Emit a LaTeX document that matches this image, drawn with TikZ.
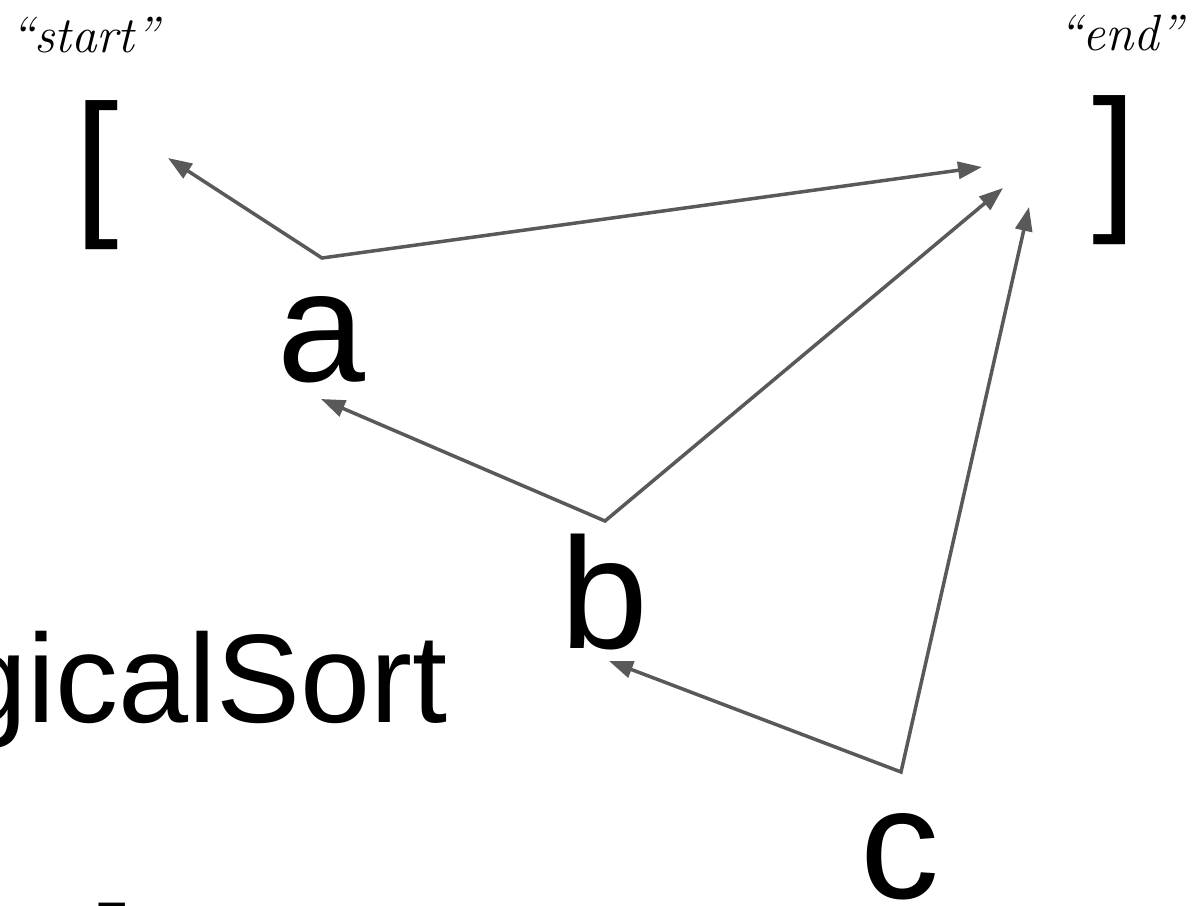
\documentclass[tikz,border=0pt]{standalone}
\usepackage{fontspec}
\setmainfont{Liberation Sans}
\newfontfamily\handfont{Latin Modern Roman}
\usetikzlibrary{arrows.meta}
\definecolor{arrowgray}{HTML}{595959}

\begin{document}
\begin{tikzpicture}[x=1pt,y=-1pt,
  glyph/.style={inner sep=0pt, outer sep=0pt, text=black},
  bigletter/.style={glyph, anchor=base, font=\fontsize{158}{160}\selectfont},
  bracket/.style={glyph, anchor=base west, font=\fontsize{160}{162}\selectfont},
  hand/.style={glyph, anchor=base west, font=\handfont\itshape\fontsize{51}{53}\selectfont},
  twoway/.style={draw=arrowgray, line width=3.5pt, line join=miter,
    {Triangle[length=24pt,width=17pt]}-{Triangle[length=24pt,width=17pt]}}]
  \useasboundingbox (0,0) rectangle (1194,905);
  \clip (0,0) rectangle (1194,905);

  % labels of the two sentinels
  \node[hand] (startlbl) at (10,52) {“start”};
  \node[hand] (endlbl) at (1058,50) {“end”};

  % sentinel brackets
  \node[bracket] (lb) at (74,216) {[};
  \node[bracket] (rb) at (1092,211) {]};

  % the vertices
  \node[bigletter] (a) at (321,381) {a};
  \node[bigletter] (b) at (604,648) {b};
  \node[bigletter] (c) at (900,898) {c};

  % caption text running off the left and bottom edges
  \node[glyph, anchor=base east, font=\fontsize{126}{128}\selectfont] (title) at (448,722) {gicalSort};
  \node[glyph, anchor=base west, font=\fontsize{133}{135}\selectfont] (lb2) at (89,999) {[};

  % joints above each vertex
  \coordinate (ja) at (322,258);
  \coordinate (jb) at (605,521);
  \coordinate (jc) at (901,772);

  % arrow targets
  \coordinate (lbT)  at (168,158);
  \coordinate (rbTa) at (982,167);
  \coordinate (rbTb) at (1003,188);
  \coordinate (rbTc) at (1029,207);
  \coordinate (aT)   at (321,399);
  \coordinate (bT)   at (609,661);

  % edges
  \draw[twoway] (lbT) -- (ja) -- (rbTa);
  \draw[twoway] (aT) -- (jb) -- (rbTb);
  \draw[twoway] (bT) -- (jc) -- (rbTc);
\end{tikzpicture}
\end{document}
